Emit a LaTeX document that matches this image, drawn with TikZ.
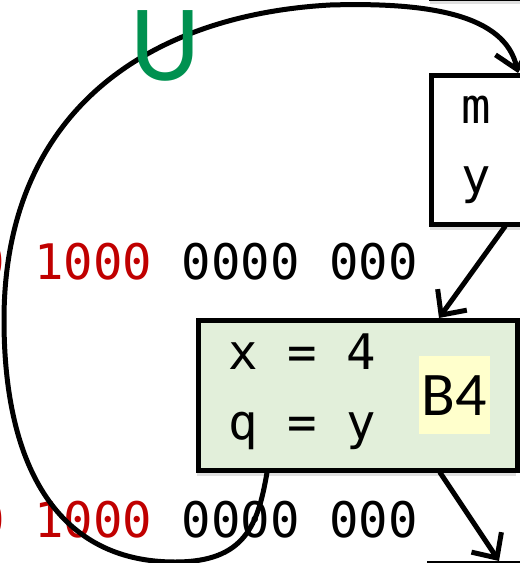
\documentclass[tikz,border=0pt]{standalone}
\usepackage{fontspec}
\usetikzlibrary{arrows.meta, shadows}
\newfontfamily\codefont{DejaVu Sans Mono}
\newfontfamily\labelfont{Carlito}
\definecolor{blockGreen}{RGB}{226,239,218}
\definecolor{markYellow}{RGB}{255,255,204}
\definecolor{bitRed}{RGB}{192,0,0}
\definecolor{loopGreen}{RGB}{0,145,80}

\begin{document}
\begin{tikzpicture}[
    x=1pt, y=-1pt,
    block/.style={draw, line width=4.5pt, fill=white, anchor=north west, inner sep=0pt,
                  drop shadow={shadow xshift=-1pt, shadow yshift=-6pt, opacity=0.25}},
    code/.style={font=\codefont\fontsize{49}{58}\selectfont, inner sep=0pt, anchor=base west},
    arr/.style={-{Straight Barb[length=19pt, width=36pt]}, line width=5pt,
                line cap=round, line join=round}
  ]
  \clip (0,0) rectangle (520,563);

  % block above, only its shadow shows
  \node[block, minimum width=120, minimum height=150] (prev) at (429,-154) {};
  \node[block, minimum width=120, minimum height=149] (mybox) at (429,73) {};
  \node[code, anchor=base] (mvar) at (476,123) {m};
  \node[code, anchor=base] (yvar) at (476,193) {y};

  \node[block, fill=blockGreen, minimum width=319, minimum height=150] (grn) at (196,318) {};
  \node[code] (xline) at (228,369) {x = 4};
  \node[code] (qline) at (228,439) {q = y};
  \node[fill=markYellow, minimum width=71, minimum height=78, text height=40pt,
        text depth=0pt, font=\labelfont\fontsize{62}{70}\selectfont] (bname) at (454.5,395) {B4};

  \node[block, minimum width=120, minimum height=100] (nxt) at (427,561) {};

  \node[code] (bits1) at (-25,279) {{\color{bitRed}0 1000} 0000 000};
  \node[code] (bits2) at (-25,537) {{\color{bitRed}0 1000} 0000 000};

  \draw[arr] ([xshift=76pt]mybox.south west) -- ([xshift=243pt]grn.north west);
  \draw[arr] ([xshift=244pt]grn.south west) -- ([xshift=72pt]nxt.north west);
  % back edge round the left side
  \draw[arr] ([xshift=71pt]grn.south west) .. controls (258,525) and (245,562) .. (175,562)
     .. controls (60,562) and (4,470) .. (4,320)
     .. controls (4,110) and (150,15) .. (330,5)
     .. controls (430,2) and (505,15) .. ([xshift=89pt]mybox.north west);
  \node[text=loopGreen, font=\labelfont\fontsize{109}{120}\selectfont, anchor=base,
        inner sep=0pt] (loopname) at (165,80) {U};
\end{tikzpicture}
\end{document}
